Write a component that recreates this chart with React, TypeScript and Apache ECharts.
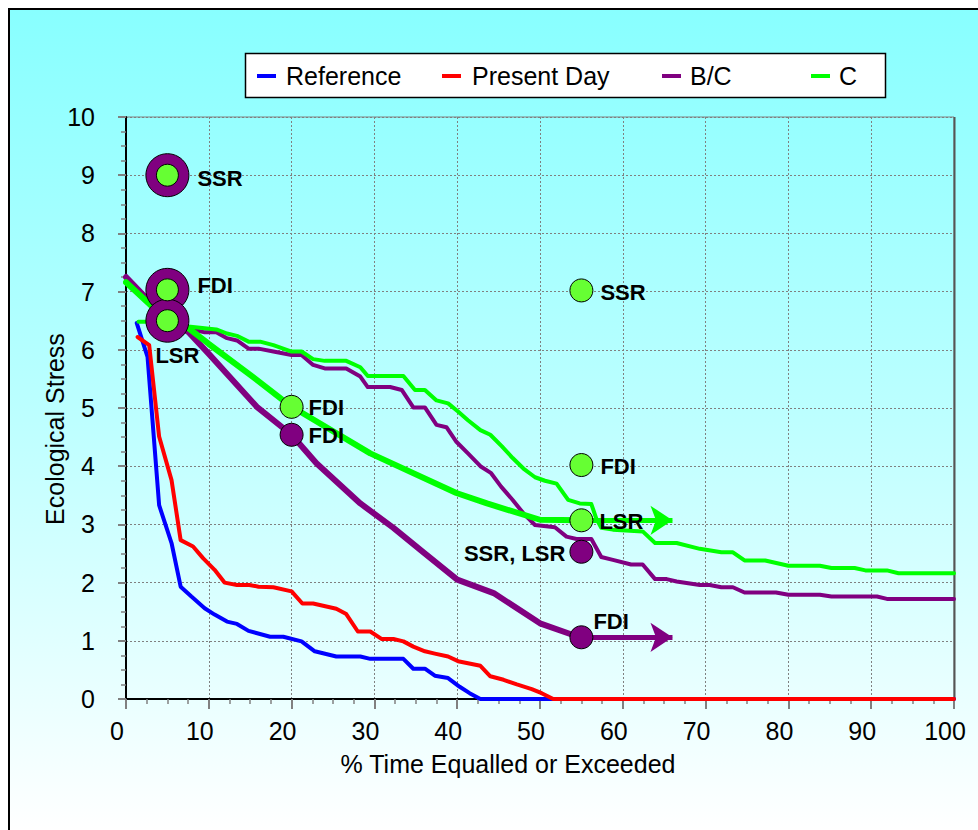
import React, { useEffect, useRef } from "react";
import * as echarts from "echarts";

// Exceedance curves: [% time equalled or exceeded, ecological stress]
const referenceCurve: [number, number][] = [
  [1.3, 6.46], [2.6, 5.88], [4.0, 3.33], [5.5, 2.68], [6.6, 1.93], [7.9, 1.76],
  [9.5, 1.56], [10.7, 1.45], [12.2, 1.33], [13.4, 1.29], [14.8, 1.17], [17.4, 1.07],
  [19.0, 1.07], [21.2, 0.99], [22.8, 0.82], [25.4, 0.73], [28.3, 0.73], [29.5, 0.69],
  [33.5, 0.69], [34.7, 0.52], [36.1, 0.52], [37.3, 0.4], [38.9, 0.36], [40.3, 0.21],
  [41.5, 0.1], [42.8, 0], [100, 0],
];

const presentDayCurve: [number, number][] = [
  [1.4, 6.22], [2.8, 6.08], [4.0, 4.51], [5.5, 3.76], [6.6, 2.73], [8.1, 2.62],
  [9.3, 2.42], [10.7, 2.22], [11.9, 2.0], [13.4, 1.96], [14.9, 1.96], [16.0, 1.93],
  [17.8, 1.92], [20.0, 1.85], [21.3, 1.64], [22.6, 1.64], [25.4, 1.55], [26.6, 1.46],
  [28.0, 1.16], [29.5, 1.16], [30.9, 1.03], [32.3, 1.03], [33.5, 0.99], [34.7, 0.9],
  [36.1, 0.82], [37.3, 0.78], [38.9, 0.73], [40.1, 0.65], [42.8, 0.57], [44.0, 0.39],
  [45.6, 0.33], [47.2, 0.25], [49.0, 0.17], [50.2, 0.1], [51.6, 0], [100, 0],
];

const bcCurve: [number, number][] = [
  [5, 6.45], [7.5, 6.37], [9.5, 6.3], [10.9, 6.3], [12.2, 6.2], [13.4, 6.16],
  [14.8, 6.02], [16.0, 6.02], [17.8, 5.97], [20.0, 5.91], [21.2, 5.91], [22.6, 5.74],
  [24.0, 5.68], [26.6, 5.68], [28.3, 5.54], [29.2, 5.36], [31.9, 5.36], [33.3, 5.31],
  [34.7, 5.01], [36.1, 5.01], [37.5, 4.71], [38.7, 4.67], [39.9, 4.42], [41.3, 4.22],
  [42.8, 4.0], [44.1, 3.88], [45.3, 3.65], [46.7, 3.42], [48.0, 3.19], [49.4, 2.99],
  [51.8, 2.95], [53.2, 2.79], [54.4, 2.75], [56.2, 2.75], [57.4, 2.44], [58.8, 2.39],
  [61.0, 2.31], [62.4, 2.31], [63.9, 2.06], [65.3, 2.06], [66.5, 2.02], [67.9, 1.99],
  [69.3, 1.96], [70.5, 1.96], [71.9, 1.92], [73.3, 1.92], [74.7, 1.83], [78.5, 1.83],
  [80.0, 1.79], [83.8, 1.79], [85.2, 1.76], [90.7, 1.76], [91.9, 1.72], [100, 1.72],
];

const cCurve: [number, number][] = [
  [1.5, 6.48], [2.5, 6.48], [7.5, 6.4], [9.5, 6.37], [10.9, 6.35], [12.2, 6.28],
  [13.4, 6.24], [14.8, 6.14], [16.2, 6.14], [17.8, 6.08], [20.0, 5.97], [21.2, 5.97],
  [22.6, 5.84], [24.0, 5.81], [26.6, 5.81], [28.3, 5.7], [29.2, 5.55], [33.5, 5.55],
  [34.9, 5.31], [36.1, 5.31], [37.5, 5.13], [38.9, 5.08], [40.1, 4.94], [41.3, 4.79],
  [42.8, 4.62], [44.0, 4.54], [45.4, 4.34], [46.7, 4.14], [48.0, 3.96], [49.4, 3.81],
  [50.6, 3.75], [52.0, 3.7], [53.4, 3.42], [54.8, 3.36], [56.2, 3.35], [56.8, 3.1],
  [57.4, 2.94], [58.8, 2.91], [62.4, 2.88], [63.9, 2.68], [66.5, 2.68], [69.3, 2.58],
  [71.9, 2.52], [73.3, 2.52], [74.7, 2.38], [77.2, 2.38], [80.0, 2.29], [83.8, 2.29],
  [85.2, 2.25], [88.0, 2.25], [89.3, 2.21], [91.9, 2.21], [93.3, 2.16], [100, 2.16],
];

// Projected trajectories (heavy lines)
const bcTrajectory: [number, number][] = [
  [0, 7.25], [2.5, 6.88], [5, 6.5], [7.5, 6.31], [10, 5.93], [15.8, 5.02], [20, 4.54],
  [23, 4.05], [28.3, 3.36], [32.3, 2.94], [36, 2.51], [40, 2.05], [44.4, 1.82],
  [50, 1.3], [54, 1.1], [55, 1.06],
];

const cTrajectory: [number, number][] = [
  [0, 7.16], [2.5, 6.83], [5, 6.5], [7.3, 6.4], [10, 6.1], [15, 5.57], [20, 5.02],
  [21, 4.94], [29.5, 4.22], [39.9, 3.54], [43.6, 3.36], [50, 3.08], [55, 3.07],
];

const trajectoryArrowEnd = 66;

// Indicator points
const ringPoints = [
  { name: "SSR", value: [5, 9.0] },
  { name: "FDI", value: [5, 7.03] },
  { name: "LSR", value: [5, 6.5] },
];
const cPoints = [
  { name: "FDI", value: [20, 5.02] },
  { name: "SSR", value: [55, 7.02] },
  { name: "FDI", value: [55, 4.02] },
  { name: "LSR", value: [55, 3.07] },
];
const bcPoints = [
  { name: "FDI", value: [20, 4.54] },
  { name: "SSR, LSR", value: [55, 2.53] },
  { name: "FDI", value: [55, 1.06] },
];

const legendItems = ["Reference", "Present Day", "B/C", "C"];

const BLUE = "#0000FF";
const RED = "#FF0000";
const PURPLE = "#800080";
const GREEN = "#00FF00";
const MARKER_GREEN = "#66FF33";
const FONT = 'Arial, "Liberation Sans", sans-serif';

const labelStyle = (position: any, distance: number, offset: number[]) => ({
  show: true,
  position,
  distance,
  offset,
  formatter: "{b}",
  color: "#000",
  fontFamily: FONT,
  fontWeight: "bold",
  fontSize: 22,
});

export default function App() {
  const ref = useRef<HTMLDivElement>(null);

  useEffect(() => {
    if (!ref.current) return;
    const chart = echarts.init(ref.current, null, { renderer: "svg" });

    const ringLabels = [
      labelStyle("right", 8, [0, 3]),
      labelStyle("right", 8, [0, -4]),
      labelStyle("bottom", 2, [10, 0]),
    ];
    const cLabels = [
      labelStyle("right", 5, [0, 1]),
      labelStyle("right", 7, [0, 2]),
      labelStyle("right", 7, [0, 1]),
      labelStyle("right", 6, [0, 1]),
    ];
    const bcLabels = [
      labelStyle("right", 5, [0, 1]),
      labelStyle("left", 4, [0, 2]),
      labelStyle("right", 0, [0, -16]),
    ];

    const legendX = [257, 442, 662, 811];
    const legendTextX = [286, 472, 690, 839];
    const legendColors = [BLUE, RED, PURPLE, GREEN];

    const legendGraphics: any[] = [
      {
        type: "rect",
        shape: { x: 245.5, y: 53.5, width: 640, height: 44 },
        style: { fill: "#fff", stroke: "#000", lineWidth: 1.5 },
        z: 10,
      },
    ];
    legendItems.forEach((name, i) => {
      legendGraphics.push({
        type: "rect",
        shape: { x: legendX[i], y: 74, width: 19, height: 4 },
        style: { fill: legendColors[i] },
        z: 11,
      });
      legendGraphics.push({
        type: "text",
        x: legendTextX[i],
        y: 76,
        style: {
          text: name,
          fontFamily: FONT,
          fontSize: 25,
          fill: "#000",
          align: "left",
          verticalAlign: "middle",
        },
        z: 11,
      });
    });

    const lineSeries = (name: string, data: [number, number][], color: string, width: number) => ({
      name,
      type: "line",
      data,
      showSymbol: false,
      symbol: "none",
      lineStyle: { color, width, join: "round", cap: "round" },
      itemStyle: { color },
      silent: true,
      z: 3,
    });

    const arrow = (y: number, start: number, color: string) => ({
      silent: true,
      symbol: ["none", "arrow"],
      symbolSize: 22,
      label: { show: false },
      lineStyle: { color, width: 5, type: "solid" },
      emphasis: { disabled: true },
      data: [[{ coord: [start, y] }, { coord: [trajectoryArrowEnd, y] }]],
    });

    const bcEnd = bcTrajectory[bcTrajectory.length - 1];
    const cEnd = cTrajectory[cTrajectory.length - 1];

    chart.setOption({
      animation: false,
      grid: {
        left: 126,
        top: 117,
        right: 24,
        bottom: 131,
        show: true,
        borderColor: "#808080",
        borderWidth: 1,
      },
      graphic: [
        {
          type: "rect",
          shape: { x: 9, y: 9, width: 1100, height: 1000 },
          style: {
            fill: {
              type: "linear",
              x: 0,
              y: 10,
              x2: 0,
              y2: 830,
              global: true,
              colorStops: [
                { offset: 0, color: "#88FFFF" },
                { offset: 0.5, color: "#BDFFFF" },
                { offset: 1, color: "#FFFFFF" },
              ],
            },
            stroke: "#000",
            lineWidth: 2,
          },
          z: -10,
          silent: true,
        },
        {
          type: "line",
          shape: { x1: 954.5, y1: 117, x2: 954.5, y2: 700 },
          style: { stroke: "#555", lineWidth: 2 },
          z: 1,
          silent: true,
        },
        ...legendGraphics,
        {
          type: "text",
          x: 55,
          y: 429,
          rotation: Math.PI / 2,
          style: {
            text: "Ecological Stress",
            fontFamily: FONT,
            fontSize: 25,
            fill: "#000",
            align: "center",
            verticalAlign: "middle",
          },
        },
        {
          type: "text",
          x: 508,
          y: 764,
          style: {
            text: "% Time Equalled or Exceeded",
            fontFamily: FONT,
            fontSize: 25,
            fill: "#000",
            align: "center",
            verticalAlign: "middle",
          },
        },
      ],
      xAxis: {
        type: "value",
        min: 0,
        max: 100,
        interval: 10,
        axisLine: { show: true, onZero: false, lineStyle: { color: "#000", width: 2 } },
        axisTick: { show: true, length: 10, lineStyle: { color: "#808080", width: 2 } },
        minorTick: { show: true, splitNumber: 4, length: 5, lineStyle: { color: "#808080", width: 1.5 } },
        splitLine: { show: true, lineStyle: { color: "#808080", width: 1, type: [2, 2] } },
        axisLabel: {
          fontFamily: FONT,
          fontSize: 25,
          color: "#000",
          margin: 19,
          padding: [0, 18, 0, 0],
        },
      },
      yAxis: {
        type: "value",
        min: 0,
        max: 10,
        interval: 1,
        axisLine: { show: true, onZero: false, lineStyle: { color: "#000", width: 2 } },
        axisTick: { show: true, length: 8, lineStyle: { color: "#808080", width: 2 } },
        minorTick: { show: true, splitNumber: 4, length: 5, lineStyle: { color: "#808080", width: 1.5 } },
        splitLine: { show: true, lineStyle: { color: "#808080", width: 1, type: [2, 2] } },
        axisLabel: {
          fontFamily: FONT,
          fontSize: 25,
          color: "#000",
          margin: 31,
        },
      },
      series: [
        lineSeries("Reference", referenceCurve, BLUE, 4),
        lineSeries("Present Day", presentDayCurve, RED, 4),
        lineSeries("B/C", bcCurve, PURPLE, 4),
        lineSeries("C", cCurve, GREEN, 4),
        {
          ...lineSeries("B/C trajectory", bcTrajectory, PURPLE, 6),
          markLine: arrow(bcEnd[1], bcEnd[0], PURPLE),
        },
        {
          ...lineSeries("C trajectory", cTrajectory, GREEN, 6),
          markLine: arrow(cEnd[1], cEnd[0], GREEN),
        },
        {
          name: "Ring outer",
          type: "scatter",
          symbol: "circle",
          symbolSize: 43,
          itemStyle: { color: PURPLE, borderColor: "#000", borderWidth: 1, opacity: 1 },
          data: ringPoints.map((p, i) => ({ ...p, label: ringLabels[i] })),
          silent: true,
          z: 5,
        },
        {
          name: "Ring inner",
          type: "scatter",
          symbol: "circle",
          symbolSize: 22,
          itemStyle: { color: MARKER_GREEN, borderColor: "#000", borderWidth: 1, opacity: 1 },
          data: ringPoints.map((p) => ({ ...p, label: { show: false } })),
          silent: true,
          z: 6,
        },
        {
          name: "C indicators",
          type: "scatter",
          symbol: "circle",
          symbolSize: 23,
          itemStyle: { color: MARKER_GREEN, borderColor: "#000", borderWidth: 1, opacity: 1 },
          data: cPoints.map((p, i) => ({ ...p, label: cLabels[i] })),
          silent: true,
          z: 5,
        },
        {
          name: "B/C indicators",
          type: "scatter",
          symbol: "circle",
          symbolSize: 23,
          itemStyle: { color: PURPLE, borderColor: "#000", borderWidth: 1, opacity: 1 },
          data: bcPoints.map((p, i) => ({ ...p, label: bcLabels[i] })),
          silent: true,
          z: 5,
        },
      ],
    });

    return () => chart.dispose();
  }, []);

  return (
    <div
      ref={ref}
      style={{ position: "absolute", left: 0, top: 0, width: 978, height: 830 }}
    />
  );
}
